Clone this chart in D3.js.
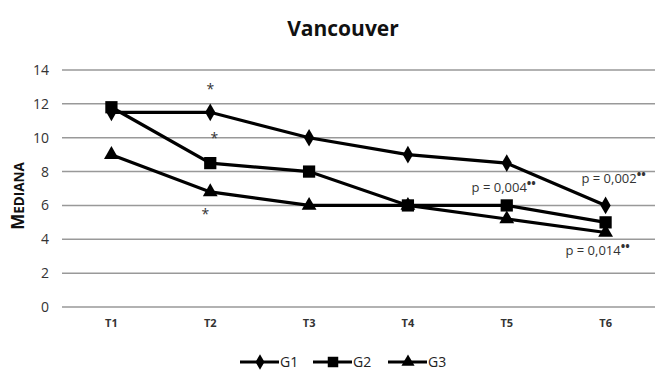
<!DOCTYPE html>
<html><head><meta charset="utf-8">
<script src="https://cdn.jsdelivr.net/npm/d3@7"></script>
<style>body{margin:0;background:#fff;}svg{display:block;font-family:"Open Sans",sans-serif;}</style>
</head><body>
<script>
const categories = ["T1","T2","T3","T4","T5","T6"];
const g1 = [11.5, 11.5, 10, 9, 8.5, 6];
const g2 = [11.8, 8.5, 8, 6, 6, 5];
const g3 = [9, 6.8, 6, 6, 5.2, 4.4];
const seriesNames = ["G1","G2","G3"];
const yTicks = [0,2,4,6,8,10,12,14];
const annotations = [
  {cat:"T2", v:12.6, text:"*", dx:0},
  {cat:"T2", v:9.7, text:"*", dx:4},
  {cat:"T2", v:5.2, text:"*", dx:-5},
  {cat:"T5", v:6.8, text:"p = 0,004", dx:-3, stars:"••"},
  {cat:"T6", v:7.3, text:"p = 0,002", dx:8, stars:"••"},
  {cat:"T6", v:3.1, text:"p = 0,014", dx:-8, stars:"••"}
];

const W=656,H=376;
const m={left:62,right:1,top:70,bottom:69};
const svg=d3.select("body").append("svg").attr("width",W).attr("height",H);
const x=d3.scaleBand().domain(categories).range([m.left,W-m.right]);
const y=d3.scaleLinear().domain([0,14]).range([H-m.bottom,m.top]);

svg.append("text").attr("x",343).attr("y",36).attr("text-anchor","middle")
  .attr("font-size",21).attr("font-weight","bold").attr("fill","#111").text("Vancouver");

// grid
svg.append("g").selectAll("line").data(yTicks).join("line")
  .attr("x1",m.left).attr("x2",W-m.right).attr("y1",d=>y(d)).attr("y2",d=>y(d))
  .attr("stroke","#999").attr("stroke-width",1.5);

const yAxis=svg.append("g").attr("transform",`translate(${m.left},0)`)
  .call(d3.axisLeft(y).tickValues(yTicks).tickSize(0).tickPadding(13));
yAxis.select(".domain").remove();
yAxis.selectAll("text").attr("font-size",14).attr("fill","#333").attr("font-family","Open Sans, sans-serif");

const xAxis=svg.append("g").attr("transform",`translate(0,${H-m.bottom})`)
  .call(d3.axisBottom(x).tickSize(0).tickPadding(12));
xAxis.select(".domain").remove();
xAxis.selectAll("text").attr("font-size",11).attr("font-weight","bold").attr("fill","#333").attr("font-family","Open Sans, sans-serif");

// y label small caps
const yl=svg.append("text").attr("transform","translate(24,196) rotate(-90)")
  .attr("text-anchor","middle").attr("font-weight","bold").attr("fill","#111");
yl.append("tspan").attr("font-size",17).text("M");
yl.append("tspan").attr("font-size",13.5).text("EDIANA");

const data=[g1,g2,g3];
const cx=c=>x(c)+x.bandwidth()/2;
const line=d3.line().x((d,i)=>cx(categories[i])).y(d=>y(d));
const symbols=[d3.symbolDiamond,d3.symbolSquare,d3.symbolTriangle];
const sizes=[90,150,95];
data.forEach((s,k)=>{
  svg.append("path").attr("d",line(s)).attr("fill","none").attr("stroke","#000").attr("stroke-width",3.2);
  svg.append("g").selectAll("path").data(s).join("path")
    .attr("transform",(d,i)=>`translate(${cx(categories[i])},${y(d)})`)
    .attr("d",d3.symbol().type(symbols[k]).size(sizes[k])).attr("fill","#000");
});

// annotations
annotations.forEach(a=>{
  const t=svg.append("text").attr("x",cx(a.cat)+a.dx).attr("y",y(a.v)).attr("text-anchor","middle")
    .attr("fill","#333").attr("font-size",a.stars?13:14);
  t.append("tspan").text(a.text);
  if(a.stars) t.append("tspan").attr("font-size",12).attr("font-weight","bold").attr("dy",-4).text(a.stars);
});

// legend
const legX=[240,313,388];
const legSizes=[70,110,75];
seriesNames.forEach((n,k)=>{
  const g=svg.append("g").attr("transform",`translate(${legX[k]},362)`);
  g.append("line").attr("x1",0).attr("x2",39).attr("stroke","#000").attr("stroke-width",3.2);
  g.append("path").attr("transform","translate(20,0)").attr("d",d3.symbol().type(symbols[k]).size(legSizes[k])).attr("fill","#000");
  g.append("text").attr("x",40).attr("y",5).attr("font-size",14).attr("fill","#222").text(n);
});
</script>
</body></html>
